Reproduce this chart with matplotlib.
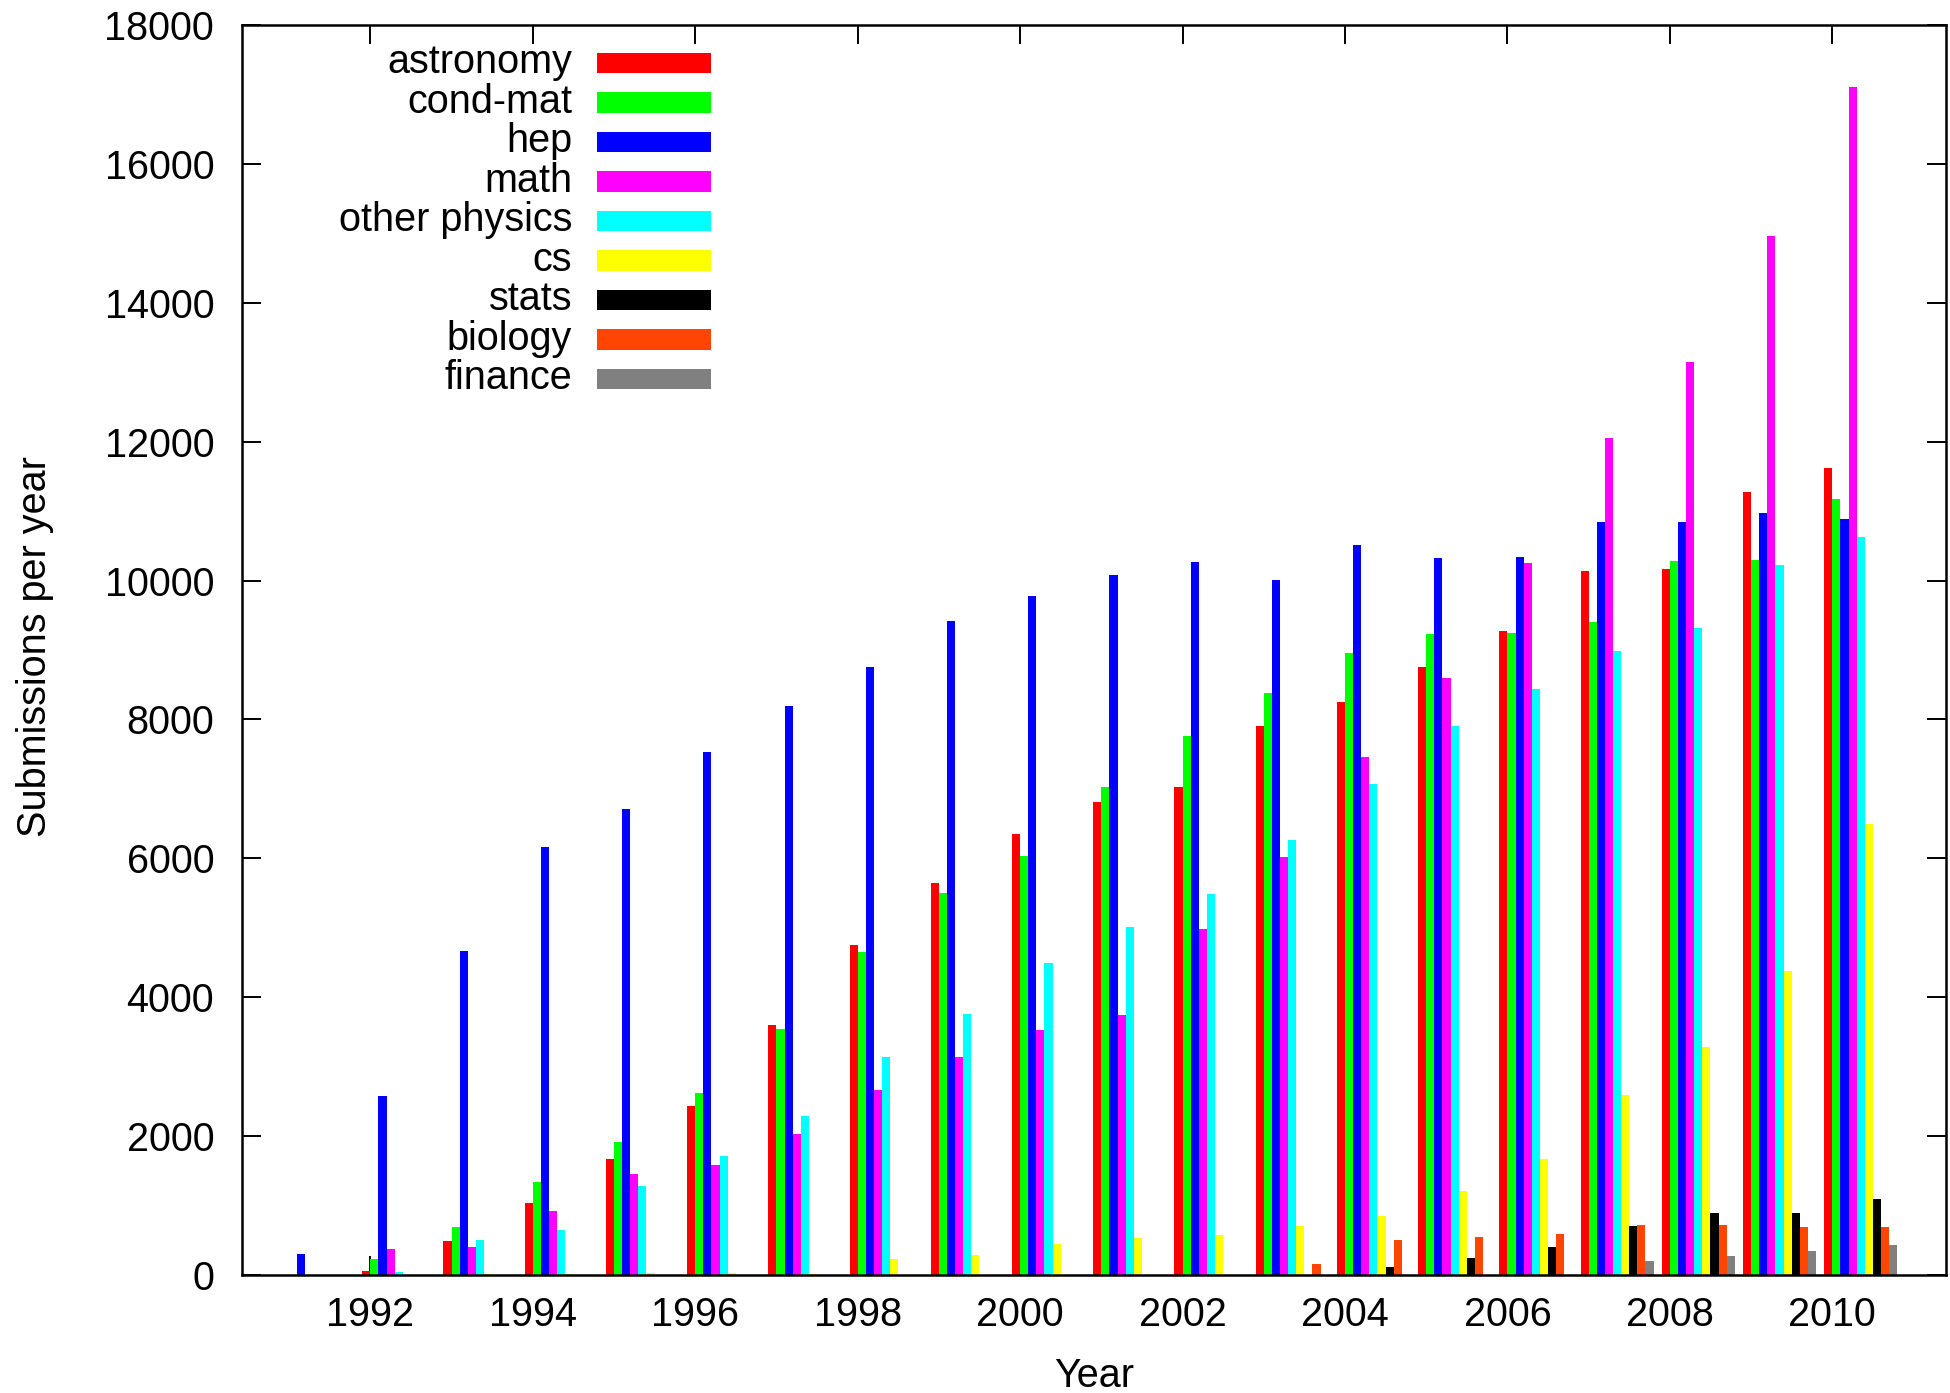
import matplotlib
matplotlib.use("Agg")
import matplotlib.pyplot as plt
from matplotlib.patches import Rectangle
import numpy as np

years = np.arange(1991, 2011)
categories = ["astronomy", "cond-mat", "hep", "math", "other physics",
              "cs", "stats", "biology", "finance"]
colors = ["#ff0000", "#00ff00", "#0000ff", "#ff00ff", "#00ffff",
          "#ffff00", "#000000", "#ff4500", "#808080"]

astronomy = [0, 55, 490, 1030, 1670, 2430, 3600, 4747, 5647, 6353,
             6809, 7028, 7909, 8245, 8750, 9271, 10144, 10173, 11281, 11615]
cond_mat = [0, 225, 690, 1340, 1920, 2620, 3545, 4650, 5499, 6032,
            7028, 7766, 8377, 8955, 9227, 9241, 9410, 10276, 10298, 11178]
hep = [302, 2580, 4660, 6160, 6710, 7535, 8200, 8750, 9418, 9771,
       10079, 10266, 10008, 10518, 10327, 10342, 10841, 10848, 10973, 10892]
math = [0, 370, 400, 920, 1450, 1585, 2036, 2660, 3141, 3533,
        3746, 4979, 6013, 7466, 8603, 10254, 12051, 13149, 14966, 17101]
other_physics = [0, 50, 500, 650, 1285, 1720, 2295, 3140, 3765, 4491,
                 5005, 5486, 6257, 7070, 7906, 8442, 8985, 9322, 10224, 10628]
cs = [0, 0, 20, 10, 25, 25, 20, 235, 295, 445,
      540, 580, 712, 846, 1205, 1675, 2587, 3284, 4377, 6497]
stats = [0, 0, 0, 0, 0, 0, 0, 0, 0, 0,
         0, 0, 0, 110, 245, 398, 705, 892, 892, 1100]
biology = [0, 0, 0, 0, 0, 0, 0, 0, 0, 0,
           0, 0, 165, 510, 545, 592, 719, 719, 691, 691]
finance = [0, 0, 0, 0, 0, 0, 0, 0, 0, 0,
           0, 0, 0, 0, 0, 0, 206, 278, 345, 432]

series = [astronomy, cond_mat, hep, math, other_physics, cs, stats, biology, finance]

plt.rcParams["font.family"] = ["Liberation Sans", "DejaVu Sans"]

W, H = 1950, 1393
FS = 28.5


def fx(px):
    return px / W


def fy(py):
    return 1 - py / H


fig = plt.figure(figsize=(W / 100, H / 100), dpi=100)
ax = fig.add_axes([fx(242), fy(1275), (1946 - 242) / W, (1275 - 25) / H])

bar_w = 0.1
for j, (values, color) in enumerate(zip(series, colors)):
    ax.bar(years + (j - 0.5) * bar_w, values, width=bar_w, color=color,
           linewidth=0, zorder=1)

# ticks sit under the bars, as in the gnuplot original
ax.set_axisbelow(True)
ax.set_xlim(1990.42, 2011.40)
ax.set_ylim(0, 18000)
ax.set_xticks(range(1992, 2011, 2))
ax.set_yticks(range(0, 18001, 2000))
ax.tick_params(direction="in", length=13.7, width=1.4, top=True, right=True,
               labelsize=FS, color="black")
ax.tick_params(axis="x", pad=15)
ax.tick_params(axis="y", pad=20)
for spine in ax.spines.values():
    spine.set_linewidth(1.8)

fig.text(fx(35), fy(647), "Submissions per year", rotation=90,
         ha="center", va="center", fontsize=FS)
fig.text(fx(1094), fy(1376), "Year", ha="center", va="center", fontsize=FS)

# key, gnuplot style: label on the left, colour swatch on the right
for i, (name, color) in enumerate(zip(categories, colors)):
    box_bottom = 73.3 + i * 39.5
    fig.text(fx(572), fy(box_bottom), name, ha="right", va="baseline", fontsize=FS)
    fig.add_artist(Rectangle((fx(597), fy(box_bottom)), (711 - 597) / W, 20.7 / H,
                             transform=fig.transFigure, facecolor=color,
                             edgecolor="none"))

fig.savefig("out.png", dpi=100)
plt.close(fig)
